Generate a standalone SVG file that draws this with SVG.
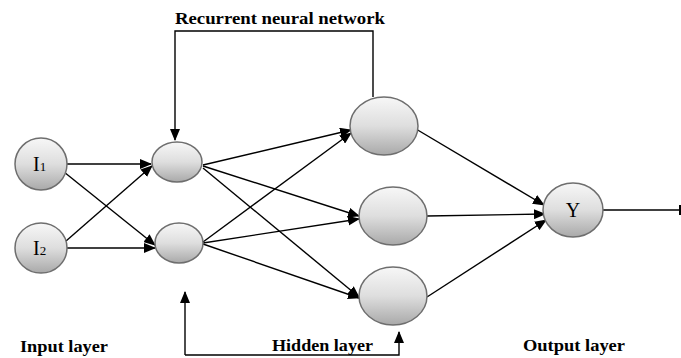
<svg xmlns="http://www.w3.org/2000/svg" width="681" height="358" viewBox="0 0 681 358">
<style>
.n{fill:url(#g);stroke:#6e6e6e;stroke-width:1.5}
.e{stroke:#000;stroke-width:1.4;fill:none}
.a{marker-end:url(#ar)}
.lbl{font-family:"Liberation Serif","Times New Roman",serif;font-weight:bold;font-size:16px;fill:#000}
.t{font-family:"Liberation Serif","Times New Roman",serif;font-size:20px;fill:#000}
</style>
<defs>
<linearGradient id="g" x1="0" y1="0" x2="0" y2="1">
<stop offset="0" stop-color="#f7f7f7"/>
<stop offset="0.5" stop-color="#dedede"/>
<stop offset="1" stop-color="#a9a9a9"/>
</linearGradient>
<marker id="ar" markerWidth="12" markerHeight="10" refX="11" refY="5" orient="auto" markerUnits="userSpaceOnUse">
<path d="M0,0 L12,5 L0,10 Z" fill="#000"/>
</marker>
</defs>
<g id="connectors">
<polyline class="e a" points="373,97 373,31 175,31 175,140"/>
<polyline class="e a" points="185,355 185,292"/>
<polyline class="e a" points="185,355 399,355 399,332"/>
<line class="e a" x1="66" y1="164" x2="151" y2="164"/>
<line class="e a" x1="64" y1="172" x2="155" y2="245"/>
<line class="e a" x1="67" y1="248" x2="155" y2="248"/>
<line class="e a" x1="66" y1="241" x2="152" y2="166"/>
<line class="e a" x1="203" y1="165" x2="351" y2="130"/>
<line class="e a" x1="203" y1="166" x2="359" y2="216"/>
<line class="e a" x1="203" y1="168" x2="359" y2="297"/>
<line class="e a" x1="203" y1="242" x2="351" y2="133"/>
<line class="e a" x1="203" y1="243" x2="359" y2="219"/>
<line class="e a" x1="203" y1="244" x2="359" y2="298"/>
<line class="e a" x1="416" y1="129" x2="544" y2="205"/>
<line class="e a" x1="427" y1="216" x2="545" y2="214"/>
<line class="e a" x1="427" y1="297" x2="546" y2="220"/>
<line class="e" x1="603" y1="210" x2="680" y2="210"/>
<line x1="680" y1="205" x2="680" y2="215" stroke="#000" stroke-width="2"/>
</g>
<g id="I1"><ellipse class="n" cx="41" cy="164" rx="26" ry="26"/><text class="t" x="33" y="171">I<tspan font-size="13">1</tspan></text></g>
<g id="I2"><ellipse class="n" cx="41" cy="248" rx="26" ry="25"/><text class="t" x="33" y="255">I<tspan font-size="13">2</tspan></text></g>
<g id="H1a"><ellipse class="n" cx="177" cy="162" rx="25" ry="20"/></g>
<g id="H1b"><ellipse class="n" cx="179" cy="243" rx="24" ry="20"/></g>
<g id="H2a"><ellipse class="n" cx="384" cy="126" rx="34" ry="29"/></g>
<g id="H2b"><ellipse class="n" cx="393" cy="216" rx="34" ry="29"/></g>
<g id="H2c"><ellipse class="n" cx="393" cy="296" rx="34" ry="29"/></g>
<g id="Y"><ellipse class="n" cx="573" cy="210" rx="30" ry="27"/><text class="t" x="573" y="217" text-anchor="middle">Y</text></g>
<text class="lbl" x="175" y="24" textLength="210" lengthAdjust="spacingAndGlyphs">Recurrent neural network</text>
<text class="lbl" x="20" y="352" textLength="88" lengthAdjust="spacingAndGlyphs">Input layer</text>
<text class="lbl" x="272" y="351" textLength="101" lengthAdjust="spacingAndGlyphs">Hidden layer</text>
<text class="lbl" x="523" y="351" textLength="102" lengthAdjust="spacingAndGlyphs">Output layer</text>
</svg>
